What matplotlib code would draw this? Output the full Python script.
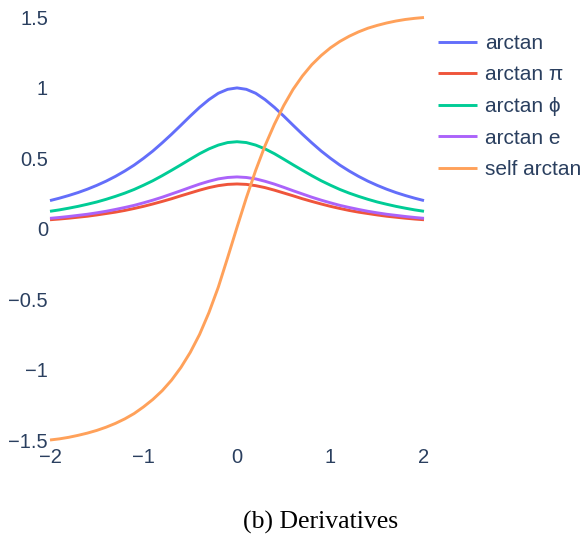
import matplotlib
matplotlib.use('Agg')
from matplotlib import pyplot as plt

plt.rcParams['font.family'] = ['Liberation Sans', 'DejaVu Sans']

# values, x step 0.1
x = [round(-2 + 0.1 * i, 1) for i in range(41)]

# left half incl. x=0 (the bell curves are symmetric in the picture)
arctan_left = [0.200, 0.217, 0.236, 0.257, 0.281, 0.308, 0.338, 0.372, 0.410, 0.452, 0.500,
               0.552, 0.610, 0.671, 0.735, 0.800, 0.862, 0.917, 0.962, 0.990, 1.000]
arctan_pi_left = [0.064, 0.069, 0.075, 0.082, 0.089, 0.098, 0.108, 0.118, 0.130, 0.144, 0.159,
                  0.176, 0.194, 0.213, 0.234, 0.254, 0.274, 0.292, 0.306, 0.315, 0.318]
arctan_phi_left = [0.124, 0.134, 0.146, 0.159, 0.174, 0.190, 0.209, 0.230, 0.253, 0.279, 0.309,
                   0.341, 0.377, 0.415, 0.454, 0.494, 0.533, 0.567, 0.594, 0.612, 0.618]
arctan_e_left = [0.074, 0.080, 0.087, 0.095, 0.103, 0.113, 0.124, 0.137, 0.151, 0.166, 0.184,
                 0.203, 0.224, 0.247, 0.270, 0.294, 0.317, 0.337, 0.354, 0.364, 0.368]

arctan = arctan_left + arctan_left[-2::-1]
arctan_pi = arctan_pi_left + arctan_pi_left[-2::-1]
arctan_phi = arctan_phi_left + arctan_phi_left[-2::-1]
arctan_e = arctan_e_left + arctan_e_left[-2::-1]

self_arctan = [-1.500, -1.492, -1.481, -1.467, -1.451, -1.432, -1.409, -1.382, -1.350, -1.312,
               -1.265, -1.212, -1.150, -1.075, -0.985, -0.878, -0.750, -0.595, -0.415, -0.205,
               0.010, 0.220, 0.415, 0.590, 0.742, 0.875, 0.990, 1.085, 1.165, 1.230,
               1.285, 1.330, 1.367, 1.398, 1.424, 1.444, 1.461, 1.475, 1.486, 1.494, 1.500]

series = [
    ('arctan', arctan, '#636efa'),
    ('arctan π', arctan_pi, '#ef553b'),
    ('arctan ϕ', arctan_phi, '#00cc96'),
    ('arctan e', arctan_e, '#ab63fa'),
    ('self arctan', self_arctan, '#ffa15a'),
]

fig = plt.figure(figsize=(5.86, 5.37), dpi=100)
ax = fig.add_axes([50 / 586, 1 - 440 / 537, 374 / 586, 422.5 / 537])

for name, vals, color in series:
    ax.plot(x, vals, color=color, lw=2.1, label=name, clip_on=False,
            solid_capstyle='butt', solid_joinstyle='round')

ax.set_xlim(-2, 2)
ax.set_ylim(-1.5, 1.5)
ax.set_xticks([-2, -1, 0, 1, 2])
ax.set_yticks([-1.5, -1, -0.5, 0, 0.5, 1, 1.5])
ax.set_yticklabels(['−1.5', '−1', '−0.5', '0', '0.5', '1', '1.5'])
ax.set_xticklabels(['−2', '−1', '0', '1', '2'])
ax.tick_params(length=0, labelsize=14.5, labelcolor='#2a3f5f')
ax.tick_params(axis='y', pad=1.5)
ax.tick_params(axis='x', pad=6)
for s in ax.spines.values():
    s.set_visible(False)

fig.legend(loc='upper left', bbox_to_anchor=(438 / 586, 1 - 34 / 537),
           frameon=False, fontsize=15, handlelength=1.87, handletextpad=0.4,
           labelspacing=0.6, borderpad=0, borderaxespad=0,
           labelcolor='#2a3f5f')

fig.text(321 / 586, 1 - 522 / 537, '(b) Derivatives', ha='center', va='center',
         fontsize=18.5, family='Liberation Serif')

fig.savefig('out.png', dpi=100)
